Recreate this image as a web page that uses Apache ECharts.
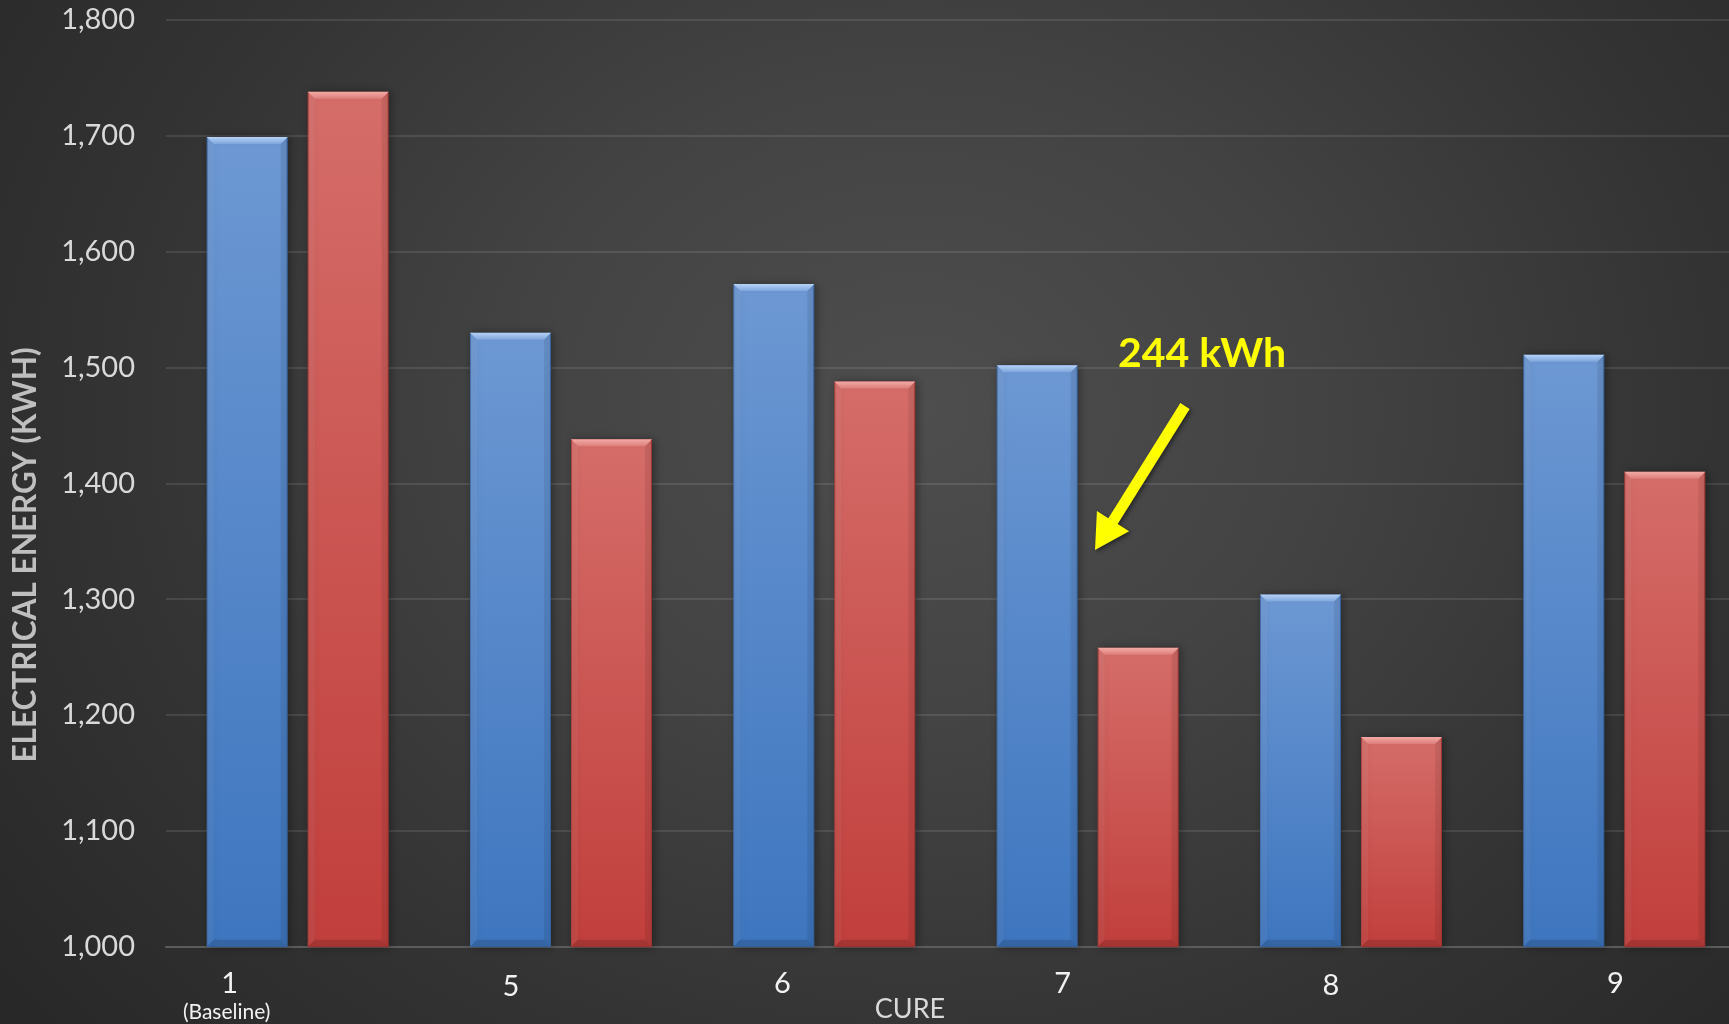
<!DOCTYPE html>
<html>
<head>
<meta charset="utf-8">
<script src="https://cdn.jsdelivr.net/npm/echarts@6/dist/echarts.min.js"></script>
<style>
  html, body { margin: 0; padding: 0; width: 1729px; height: 1024px; overflow: hidden; }
  body {
    background: radial-gradient(ellipse 1150px 950px at 53% 40%, #4e4e4e 0%, #434343 35%, #333333 70%, #282828 100%);
  }
  /* the plot area runs past the right edge of the page, so the canvas is wider than the view */
  #chart { width: 1770px; height: 1024px; }
</style>
</head>
<body>
<div id="chart"></div>
<script>
// Cure categories along the x axis
const cures = ['1', '5', '6', '7', '8', '9'];
// Electrical energy per cure (kWh)
const energyA = [1699, 1530, 1572, 1502, 1304, 1511];
const energyB = [1738, 1438, 1488, 1258, 1181, 1410];
// Value axis range and step
const yMin = 1000;
const yMax = 1800;
const yStep = 100;

// ---- layout / style constants ----
const FONT = 'Lato, "Open Sans", sans-serif';
const BAR_W = 81;
const BAR_GAP = 20;
const BEVEL = 7;
// per-label horizontal nudge (px, negative = left) and vertical nudge (px)
const labelDx = [-68, -50, -42, -25, -20, 1];
const labelDy = [0, 5, 0, 0, 4, 0];

const chart = echarts.init(document.getElementById('chart'), null, { renderer: 'canvas' });

function vGrad(stops) {
  return { type: 'linear', x: 0, y: 0, x2: 0, y2: 1,
    colorStops: stops.map(s => ({ offset: s[0], color: s[1] })) };
}

const fillA = vGrad([[0, '#6d98d3'], [1, '#3e76bf']]);
const fillB = vGrad([[0, '#d56d69'], [1, '#c13f3c']]);
const topA = vGrad([[0, '#b6d2f6'], [1, '#7ea6dc']]);
const topB = vGrad([[0, '#f3aaa6'], [1, '#dc7e7a']]);

function bevelSeries(values, offset, topFill) {
  return {
    type: 'custom',
    silent: true,
    z: 3,
    data: values.map((v, i) => [i, v]),
    renderItem(params, api) {
      const t = api.coord([api.value(0), api.value(1)]);
      const b = api.coord([api.value(0), yMin]);
      const cx = t[0] + offset;
      const L = cx - BAR_W / 2, R = cx + BAR_W / 2, T = t[1], B = b[1];
      const e = BEVEL;
      return {
        type: 'group',
        children: [
          { type: 'polygon', shape: { points: [[L, T], [L + e, T + e], [L + e, B - e], [L, B]] },
            style: { fill: 'rgba(255,255,255,0.05)' } },
          { type: 'polygon', shape: { points: [[R, T], [R, B], [R - e, B - e], [R - e, T + e]] },
            style: { fill: 'rgba(0,0,0,0.07)' } },
          { type: 'polygon', shape: { points: [[L, B], [R, B], [R - e, B - e], [L + e, B - e]] },
            style: { fill: 'rgba(0,0,0,0.12)' } },
          { type: 'polygon', shape: { points: [[L, T], [R, T], [R - e, T + e], [L + e, T + e]] },
            style: { fill: topFill } }
        ]
      };
    }
  };
}

// rich styles for the category labels, one per category
const rich = {};
cures.forEach((c, i) => {
  const dx = labelDx[i];
  rich['c' + i] = {
    fontFamily: FONT, fontSize: 29, color: '#f2f2f2', align: 'center', lineHeight: 30,
    padding: [labelDy[i], dx < 0 ? -2 * dx : 0, 0, dx > 0 ? 2 * dx : 0]
  };
});
rich.sub = {
  fontFamily: FONT, fontSize: 21, color: '#f2f2f2', align: 'center', lineHeight: 28,
  padding: [0, 142, 0, 0]
};

// yellow annotation arrow
function arrowPoints(sx, sy, tx, ty, shaftHalf, headLen, headHalf) {
  const dx = tx - sx, dy = ty - sy, len = Math.hypot(dx, dy);
  const ux = dx / len, uy = dy / len, nx = -uy, ny = ux;
  const hx = tx - ux * headLen, hy = ty - uy * headLen;
  return [
    [sx + nx * shaftHalf, sy + ny * shaftHalf],
    [hx + nx * shaftHalf, hy + ny * shaftHalf],
    [hx + nx * headHalf, hy + ny * headHalf],
    [tx, ty],
    [hx - nx * headHalf, hy - ny * headHalf],
    [hx - nx * shaftHalf, hy - ny * shaftHalf],
    [sx - nx * shaftHalf, sy - ny * shaftHalf]
  ];
}

const option = {
  backgroundColor: 'transparent',
  animation: false,
  grid: { left: 166, top: 20, width: 1580, height: 926.7, containLabel: false },
  xAxis: {
    type: 'category',
    data: cures,
    axisTick: { show: false },
    axisLine: { lineStyle: { color: '#5c5c5c', width: 2 } },
    axisLabel: {
      margin: 22,
      interval: 0,
      formatter: (v, i) => i === 0 ? '{c0|' + v + '}\n{sub|(Baseline)}' : '{c' + i + '|' + v + '}',
      rich: rich
    },
    splitLine: { show: false }
  },
  yAxis: {
    type: 'value',
    min: yMin,
    max: yMax,
    interval: yStep,
    axisLine: { show: false },
    axisTick: { show: false },
    axisLabel: {
      margin: 31,
      fontFamily: FONT,
      fontSize: 29,
      color: '#d9d9d9',
      formatter: v => v.toLocaleString('en-US')
    },
    splitLine: { lineStyle: { color: 'rgba(255,255,255,0.1)', width: 2 } }
  },
  series: [
    {
      name: 'Series 1', type: 'bar', data: energyA,
      barWidth: BAR_W, barGap: (BAR_GAP / BAR_W * 100).toFixed(1) + '%',
      itemStyle: { color: fillA, borderColor: '#3a6aa8', borderWidth: 1,
        shadowBlur: 8, shadowColor: 'rgba(0,0,0,0.35)', shadowOffsetX: 2 }
    },
    {
      name: 'Series 2', type: 'bar', data: energyB,
      barWidth: BAR_W,
      itemStyle: { color: fillB, borderColor: '#a83834', borderWidth: 1,
        shadowBlur: 8, shadowColor: 'rgba(0,0,0,0.35)', shadowOffsetX: 2 }
    },
    bevelSeries(energyA, -(BAR_W + BAR_GAP) / 2, topA),
    bevelSeries(energyB, (BAR_W + BAR_GAP) / 2, topB)
  ],
  graphic: [
    {
      type: 'text', x: 26, y: 555, rotation: Math.PI / 2,
      style: { text: 'ELECTRICAL ENERGY (KWH)', fontFamily: FONT, fontWeight: 'bold', fontSize: 31.5,
        fill: '#bfbfbf', align: 'center', verticalAlign: 'middle' }
    },
    {
      type: 'text', x: 910, y: 1009,
      style: { text: 'CURE', fontFamily: FONT, fontSize: 27, fill: '#d9d9d9',
        align: 'center', verticalAlign: 'middle' }
    },
    {
      type: 'text', x: 1202, y: 354,
      style: { text: '244 kWh', fontFamily: FONT, fontWeight: 'bold', fontSize: 41, fill: '#ffff00',
        align: 'center', verticalAlign: 'middle' }
    },
    {
      type: 'polygon', z: 10,
      shape: { points: arrowPoints(1185, 406, 1095, 550, 5.5, 34, 19) },
      style: { fill: '#ffff00', shadowBlur: 4, shadowColor: 'rgba(0,0,0,0.45)', shadowOffsetX: 2, shadowOffsetY: 2 }
    }
  ]
};

chart.setOption(option);
</script>
</body>
</html>
